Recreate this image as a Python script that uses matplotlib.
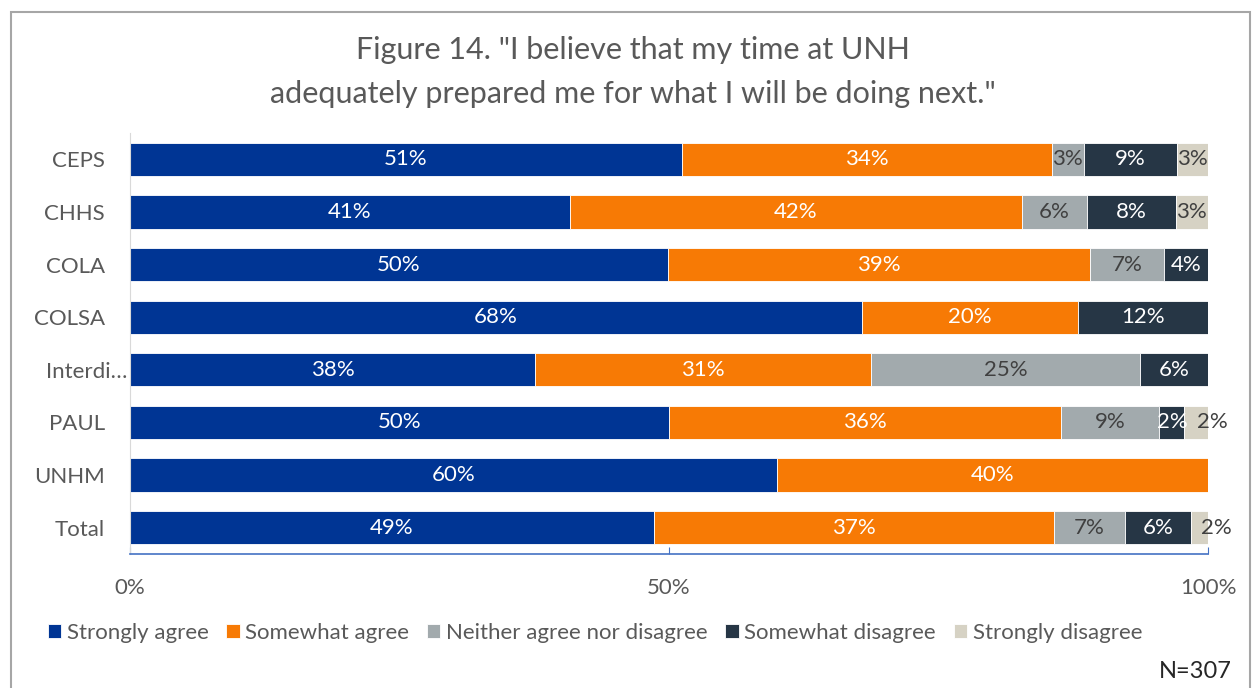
import matplotlib.pyplot as plt
from matplotlib.patches import Rectangle
from matplotlib.transforms import ScaledTranslation

plt.rcParams['font.family'] = ['Lato', 'DejaVu Sans']

colleges = ['CEPS', 'CHHS', 'COLA', 'COLSA', 'Interdi…', 'PAUL', 'UNHM', 'Total']
responses = ['Strongly agree', 'Somewhat agree', 'Neither agree nor disagree',
             'Somewhat disagree', 'Strongly disagree']
strongly_agree = [51.2, 40.8, 49.9, 67.9, 37.6, 50.0, 60.0, 48.6]
somewhat_agree = [34.3, 41.9, 39.2, 20.0, 31.1, 36.4, 40.0, 37.1]
neither = [3.0, 6.1, 6.8, 0, 25.0, 9.1, 0, 6.6]
somewhat_disagree = [8.6, 8.2, 4.1, 12.1, 6.3, 2.3, 0, 6.1]
strongly_disagree = [2.9, 3.0, 0, 0, 0, 2.2, 0, 1.6]

series = [strongly_agree, somewhat_agree, neither, somewhat_disagree, strongly_disagree]
colors = ['#003594', '#F77A05', '#A2AAAD', '#263645', '#D6D2C4']
text_colors = ['white', 'white', '#404040', 'white', '#404040']
grey = '#595959'
fs = 16

fig = plt.figure(figsize=(12.54, 6.88), dpi=100)
ax = fig.add_axes([130 / 1254, 1 - 554 / 688, 1078 / 1254, 421 / 688])

y = list(range(len(colleges)))
left = [0.0] * len(colleges)
for k, (name, vals, c, tc) in enumerate(zip(responses, series, colors, text_colors)):
    ax.barh(y, vals, left=left, height=0.63, color=c, edgecolor='white',
            linewidth=0.6, label=name)
    for i, v in enumerate(vals):
        if v <= 0:
            continue
        # very thin end segments get their label pushed outward, like Excel does
        dx = 12 if (k == len(series) - 1 and v < 2.5) else 0
        ax.annotate(f'{v:.0f}%', (left[i] + v / 2, y[i]), xytext=(dx, 0),
                    textcoords='offset points', ha='center', va='center',
                    color=tc, fontsize=fs)
    left = [l + v for l, v in zip(left, vals)]

ax.set_xlim(0, 100)
ax.set_ylim(7.5, -0.5)
ax.set_xticks([0, 50, 100])
ax.set_xticklabels(['0%', '50%', '100%'])
ax.set_yticks(y)
ax.set_yticklabels(colleges)
ax.tick_params(axis='x', direction='in', length=5, color='#4472C4', pad=17,
               labelsize=fs, labelcolor=grey)
ax.tick_params(axis='y', length=0, pad=18, labelsize=fs, labelcolor=grey)
for s in ['top', 'right']:
    ax.spines[s].set_visible(False)
ax.spines['left'].set_color('#D9D9D9')
ax.spines['bottom'].set_color('#4472C4')
ax.spines['bottom'].set_linewidth(1.2)

# the truncated label sits closer to the axis
lab = ax.get_yticklabels()[4]
lab.set_transform(lab.get_transform() + ScaledTranslation(0.22, 0, fig.dpi_scale_trans))

fig.text(0.505, 1 - 50 / 688, 'Figure 14. "I believe that my time at UNH',
         ha='center', va='center', fontsize=22, color=grey)
fig.text(0.505, 1 - 94 / 688, 'adequately prepared me for what I will be doing next."',
         ha='center', va='center', fontsize=22, color=grey)

handles, labels = ax.get_legend_handles_labels()
fig.legend(handles, labels, loc='center', bbox_to_anchor=(595 / 1254, 1 - 633 / 688),
           ncol=5, frameon=False, fontsize=fs, handlelength=0.6, handleheight=0.6,
           handletextpad=0.25, columnspacing=0.8, labelcolor=grey)

fig.text(1232 / 1254, 1 - 672 / 688, 'N=307', ha='right', va='center',
         fontsize=17, color='#262626')

fig.patches.append(Rectangle((11 / 1254, -0.1), 1239 / 1254, 1.1 - 12 / 688,
                             transform=fig.transFigure, fill=False,
                             edgecolor='#A6A6A6', linewidth=1.5))

fig.savefig('out.png', dpi=100)
